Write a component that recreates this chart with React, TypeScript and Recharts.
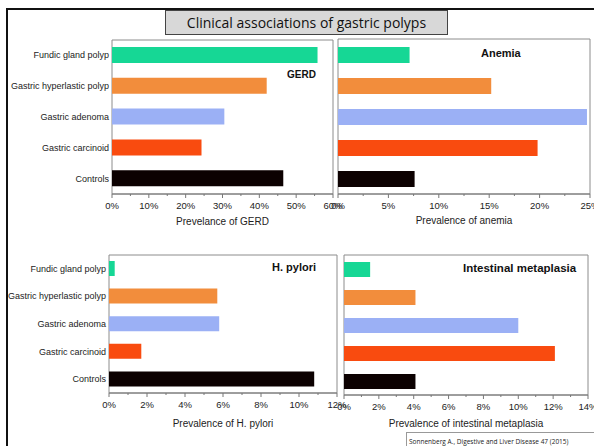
import React from "react";
import { BarChart, Bar, Cell, XAxis, YAxis, ReferenceArea } from "recharts";

const categories = [
  "Fundic gland polyp",
  "Gastric hyperlastic polyp",
  "Gastric adenoma",
  "Gastric carcinoid",
  "Controls",
];
const barColors = ["#16d795", "#f28d3c", "#9bb0f5", "#f94b0f", "#0c0101"];

const gerdValues = [55.8, 42.0, 30.5, 24.3, 46.5];
const anemiaValues = [7.1, 15.2, 24.7, 19.8, 7.6];
const hPyloriValues = [0.3, 5.7, 5.8, 1.7, 10.8];
const metaplasiaValues = [1.5, 4.1, 10.0, 12.1, 4.1];

const gerdTicks = [0, 10, 20, 30, 40, 50, 60];
const gerdMinorTicks = [5, 15, 25, 35, 45, 55];
const anemiaTicks = [0, 5, 10, 15, 20, 25];
const anemiaMinorTicks = [2.5, 7.5, 12.5, 17.5, 22.5];
const hPyloriTicks = [0, 2, 4, 6, 8, 10, 12];
const hPyloriMinorTicks = [1, 3, 5, 7, 9, 11];
const metaplasiaTicks = [0, 2, 4, 6, 8, 10, 12, 14];
const metaplasiaMinorTicks = [1, 3, 5, 7, 9, 11, 13];

const FONT = '"Liberation Sans", Arial, sans-serif';

interface PanelProps {
  values: number[];
  ticks: number[];
  minorTicks: number[];
  axisTitle: string;
  left: number;
  top: number;
  width: number;
  height: number;
  margin: { top: number; right: number; bottom: number; left: number };
  yAxisWidth: number;
  showCategories: boolean;
  barSize: number;
  xAxisHeight: number;
}

function renderCategoryTick(props: any) {
  const { x, y, payload } = props;
  return (
    <text x={x} y={y} dy={3} textAnchor="end" fontSize={9} fill="#222" fontFamily={FONT}>
      {payload.value}
    </text>
  );
}

function Panel({
  values,
  ticks,
  minorTicks,
  axisTitle,
  left,
  top,
  width,
  height,
  margin,
  yAxisWidth,
  showCategories,
  barSize,
  xAxisHeight,
}: PanelProps) {
  const data = categories.map((name, i) => ({ name, value: values[i] }));
  const max = ticks[ticks.length - 1];
  const allTicks = [...ticks, ...minorTicks].sort((a, b) => a - b);

  const renderTick = (props: any) => {
    const { x, y, payload } = props;
    const major = ticks.includes(payload.value);
    return (
      <g>
        <line x1={x} x2={x} y1={y} y2={y + (major ? 4 : 2)} stroke="#777" />
        {major && (
          <text x={x} y={y + 15} textAnchor="middle" fontSize={9.5} fill="#222" fontFamily={FONT}>
            {payload.value}%
          </text>
        )}
      </g>
    );
  };

  return (
    <div style={{ position: "absolute", left, top }}>
      <BarChart
        width={width}
        height={height}
        data={data}
        layout="vertical"
        margin={margin}
        barSize={barSize}
      >
        <XAxis
          type="number"
          domain={[0, max]}
          ticks={allTicks}
          interval={0}
          tickSize={0}
          tickMargin={0}
          tickLine={false}
          tick={renderTick}
          axisLine={{ stroke: "#777" }}
          height={xAxisHeight}
          label={{
            value: axisTitle,
            position: "insideBottom",
            offset: 0,
            fontSize: 10,
            fill: "#222",
            fontFamily: FONT,
          }}
        />
        <YAxis
          type="category"
          dataKey="name"
          width={yAxisWidth}
          hide={!showCategories}
          interval={0}
          tickSize={0}
          tickMargin={3}
          tickLine={false}
          axisLine={false}
          tick={renderCategoryTick}
        />
        <Bar dataKey="value" isAnimationActive={false}>
          {data.map((_, i) => (
            <Cell key={i} fill={barColors[i]} />
          ))}
        </Bar>
        <ReferenceArea x1={0} x2={max} fill="none" stroke="#8c8c8c" strokeWidth={1} />
      </BarChart>
    </div>
  );
}

function PanelLabel({ text, left, top, size }: { text: string; left: number; top: number; size: number }) {
  return (
    <div
      style={{
        position: "absolute",
        left,
        top,
        fontFamily: FONT,
        fontWeight: "bold",
        fontSize: size,
        lineHeight: 1,
        color: "#111",
        whiteSpace: "nowrap",
      }}
    >
      {text}
    </div>
  );
}

export default function App() {
  return (
    <div
      style={{
        position: "absolute",
        left: 0,
        top: 0,
        width: 594,
        height: 446,
        overflow: "hidden",
        background: "#fff",
      }}
    >
      <Panel
        values={gerdValues}
        ticks={gerdTicks}
        minorTicks={gerdMinorTicks}
        axisTitle="Prevelance of GERD"
        left={0}
        top={30}
        width={350}
        height={200}
        margin={{ top: 10, right: 17, bottom: 5, left: 0 }}
        yAxisWidth={112}
        showCategories
        barSize={16}
        xAxisHeight={31}
      />
      <Panel
        values={anemiaValues}
        ticks={anemiaTicks}
        minorTicks={anemiaMinorTicks}
        axisTitle="Prevalence of anemia"
        left={330}
        top={30}
        width={264}
        height={199}
        margin={{ top: 9, right: 4, bottom: 5, left: 8 }}
        yAxisWidth={0}
        showCategories={false}
        barSize={16}
        xAxisHeight={30}
      />
      <Panel
        values={hPyloriValues}
        ticks={hPyloriTicks}
        minorTicks={hPyloriMinorTicks}
        axisTitle="Prevalence of H. pylori"
        left={0}
        top={245}
        width={350}
        height={187}
        margin={{ top: 10, right: 13, bottom: 5, left: 0 }}
        yAxisWidth={109}
        showCategories
        barSize={15}
        xAxisHeight={34}
      />
      <Panel
        values={metaplasiaValues}
        ticks={metaplasiaTicks}
        minorTicks={metaplasiaMinorTicks}
        axisTitle="Prevalence of intestinal metaplasia"
        left={330}
        top={245}
        width={264}
        height={187}
        margin={{ top: 10, right: 6, bottom: 5, left: 14 }}
        yAxisWidth={0}
        showCategories={false}
        barSize={15}
        xAxisHeight={32}
      />

      <PanelLabel text="GERD" left={287} top={70} size={10} />
      <PanelLabel text="Anemia" left={481} top={48} size={11} />
      <PanelLabel text="H. pylori" left={272} top={262} size={11} />
      <PanelLabel text="Intestinal metaplasia" left={463} top={263} size={11.5} />

      <div
        style={{
          position: "absolute",
          left: 165,
          top: 10,
          width: 283,
          height: 25,
          boxSizing: "border-box",
          background: "#d8d8d8",
          border: "1px solid #444",
          fontFamily: '"Open Sans", sans-serif',
          fontSize: 14,
          lineHeight: "23px",
          textAlign: "center",
          color: "#111",
        }}
      >
        Clinical associations of gastric polyps
      </div>

      <div
        style={{
          position: "absolute",
          left: 406,
          top: 432,
          width: 200,
          height: 20,
          boxSizing: "border-box",
          border: "1px solid #999",
          fontFamily: '"Open Sans", sans-serif',
          fontSize: 6.5,
          lineHeight: "18px",
          paddingLeft: 2,
          color: "#222",
          whiteSpace: "nowrap",
        }}
      >
        Sonnenberg A., Digestive and Liver Disease 47 (2015)
      </div>

      <div
        style={{
          position: "absolute",
          left: 6,
          top: 8,
          width: 588,
          height: 438,
          boxSizing: "border-box",
          borderTop: "2px solid #111",
          borderLeft: "2px solid #111",
          pointerEvents: "none",
        }}
      />
    </div>
  );
}
